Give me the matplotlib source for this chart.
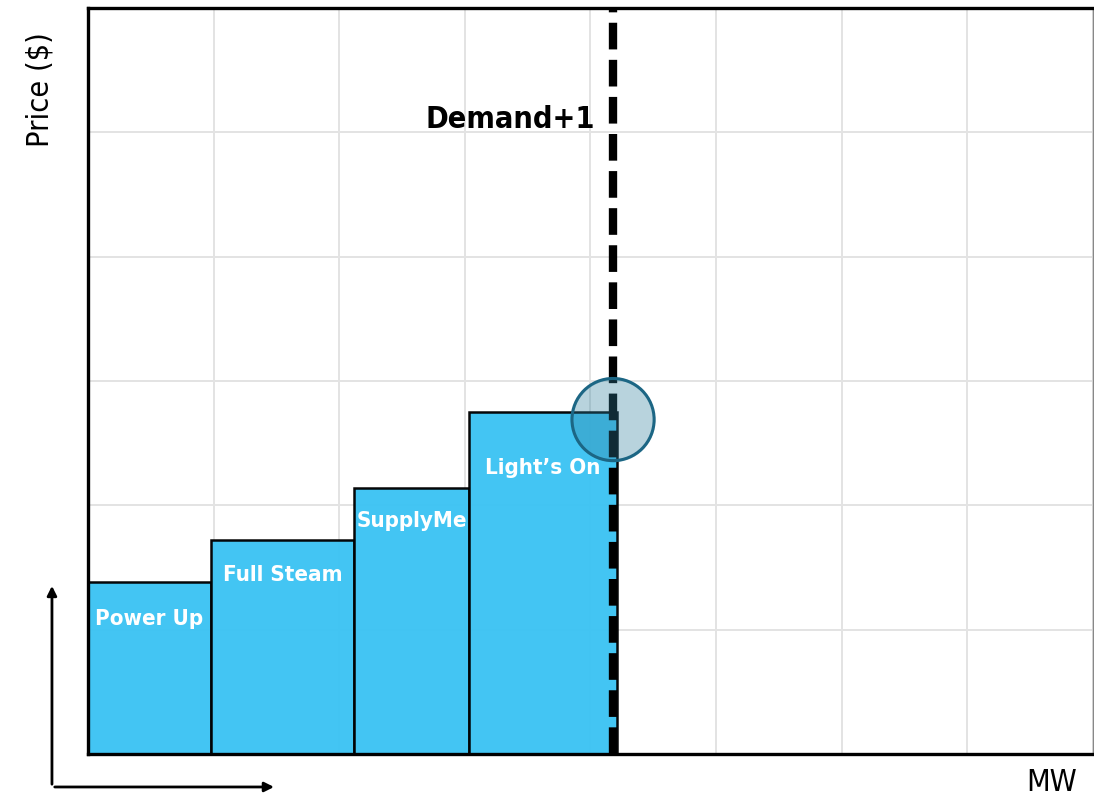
import matplotlib
matplotlib.use("Agg")
import matplotlib.pyplot as plt

# supply stack (MW on x, price on y)
names = ["Power Up", "Full Steam", "SupplyMe", "Light\u2019s On"]
mw_start = [0.0, 0.98, 2.12, 3.03]
mw_width = [0.98, 1.14, 0.91, 1.18]
price = [1.38, 1.72, 2.14, 2.75]
demand_mw = 4.18
clearing_price = 2.69

narrow = dict(family="DejaVu Sans", fontstretch="condensed")

fig = plt.figure(figsize=(10.94, 8.01), dpi=100)
ax = fig.add_axes([0.0804, 0.0587, 0.9186, 0.9313])

ax.set_xlim(0, 8)
ax.set_ylim(0, 6)
ax.set_xticks(range(9))
ax.set_yticks(range(7))
ax.tick_params(length=0, labelbottom=False, labelleft=False)
ax.grid(True, color="#e3e3e3", lw=1.4)
ax.set_axisbelow(True)

for s in ["top", "left", "bottom"]:
    ax.spines[s].set_linewidth(2.4)
    ax.spines[s].set_color("black")
ax.spines["right"].set_linewidth(1)
ax.spines["right"].set_color("#888888")

ax.bar(mw_start, price, width=mw_width, align="edge", color="#3dc3f3",
       edgecolor="black", linewidth=1.8, alpha=0.97, zorder=2)

offsets = [-26, -25, -24, -40]
for x0, w, p, name, off in zip(mw_start, mw_width, price, names, offsets):
    ax.annotate(name, (x0 + w / 2, p), xytext=(0, off), textcoords="offset points",
                ha="center", va="center", color="white", fontsize=16,
                fontweight="bold", zorder=4, **narrow)

# demand line
ax.axvline(demand_mw, color="black", lw=6, linestyle=(0, (3.2, 1.25)), zorder=3)
ax.text(demand_mw - 0.14, 5.1, "Demand+1", ha="right", va="center",
        fontsize=22, fontweight="bold", zorder=4, **narrow)

# clearing point
ax.scatter([demand_mw], [clearing_price], s=3500, color="#2f809e", alpha=0.34,
           zorder=5, clip_on=False)
ax.scatter([demand_mw], [clearing_price], s=3500, facecolor="none",
           edgecolor="#1c6684", linewidth=2.2, zorder=6, clip_on=False)

# axis titles
fig.text(0.037, 0.888, "Price ($)", rotation=90, ha="center", va="center",
         fontsize=22, fontweight="medium", **narrow)
fig.text(0.961, 0.041, "MW", ha="center", va="top", fontsize=22, **narrow)

# corner arrows
origin = (0.0475, 0.0175)
fig.add_artist(matplotlib.patches.FancyArrowPatch(origin, (0.0475, 0.272),
               transform=fig.transFigure, arrowstyle="-|>", mutation_scale=14,
               lw=2, color="black"))
fig.add_artist(matplotlib.patches.FancyArrowPatch(origin, (0.253, 0.0175),
               transform=fig.transFigure, arrowstyle="-|>", mutation_scale=14,
               lw=2, color="black"))

fig.savefig("out.png", dpi=100)
